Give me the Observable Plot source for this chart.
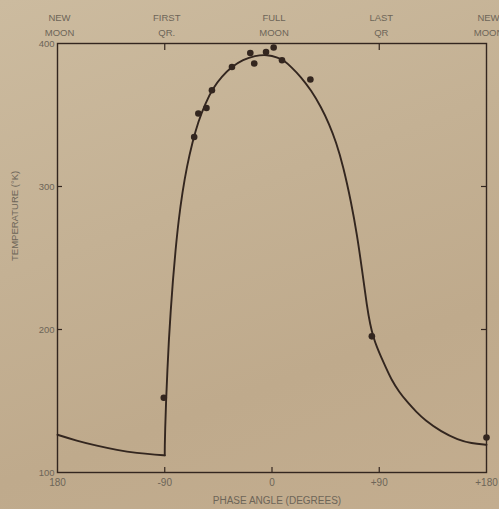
<!DOCTYPE html>
<html>
<head>
<meta charset="utf-8">
<script src="https://cdn.jsdelivr.net/npm/d3@7"></script>
<script src="https://cdn.jsdelivr.net/npm/@observablehq/plot@0.6"></script>
<style>
  html, body { margin: 0; padding: 0; }
  body {
    width: 499px; height: 509px; overflow: hidden;
    background: linear-gradient(160deg, #ccbb9f 0%, #c4b194 40%, #bfaa8c 70%, #c3ad8f 100%);
  }
  svg { display: block; }
</style>
</head>
<body>
<div id="chart"></div>
<script>
// Phase labels across the top
const phaseAngles = [-180, -90, 0, 90, 180];
const phaseLine1 = ["NEW", "FIRST", "FULL", "LAST", "NEW"];
const phaseLine2 = ["MOON", "QR.", "MOON", "QR", "MOON"];

// Axis tick labels
const xTickValues = [-180, -90, 0, 90, 180];
const xTickLabels = ["180", "-90", "0", "+90", "+180"];
const yTickValues = [100, 200, 300, 400];
const yTickLabels = ["100", "200", "300", "400"];

// Theoretical curve: night segment (new moon to first quarter)
const nightX = [-180, -164, -147, -130, -113.4, -96.6, -90];
const nightY = [126.4, 122.2, 118.7, 115.7, 113.6, 112.4, 112];

// Theoretical curve: sunlit segment (first quarter through new moon)
const dayX = [-90, -90, -89.7, -88.9, -87.8, -86.6, -85.0, -83.2, -81.0, -78.4, -75.2, -71.4, -66.8, -61.8, -55.9, -49.6, -42.0, -33.6, -24.4, -14.3, -4.2, 5.0, 10.9, 16.0, 24.4, 32.8, 41.2, 47.9, 53.8, 59.7, 66.4, 71.4, 75.6, 79.8, 82.4, 84.9, 88.2, 91.6, 95.8, 100.0, 106.7, 114.0, 121.0, 128.0, 142.0, 156.1, 167.2, 179.8, 180];
const dayY = [112, 118, 129.2, 150.2, 171.2, 192.2, 213.2, 234.2, 255.2, 276.3, 295.9, 314.1, 330.9, 345.6, 358.2, 368.7, 377.1, 383.8, 388.7, 391.5, 392.3, 390.2, 387.6, 383.6, 376.6, 367.3, 355.6, 343.8, 331.1, 314.4, 289.2, 266.1, 241.6, 215.3, 203.4, 195.0, 187.3, 180.7, 173.0, 165.3, 156.2, 148.8, 142.5, 136.9, 128.5, 122.9, 120.4, 119.4, 119.4];

// Observations
const obsX = [-90.8, -65.3, -61.8, -55, -50.4, -33.6, -18.2, -14.9, -5, 1.4, 8.4, 32.2, 83.8, 180];
const obsY = [152.3, 334.6, 351, 354.9, 367.3, 383.6, 393.4, 386, 394.1, 397.2, 388.3, 374.8, 195.2, 124.5];

// Inward tick marks
const bottomTicks = [-90, 0, 90];
const topTicks = [-90, 90];
const sideTicks = [200, 300];

const curve = [
  ...nightX.map((x, i) => ({x, y: nightY[i], seg: "night"})),
  ...dayX.map((x, i) => ({x, y: dayY[i], seg: "day"}))
];
const obs = obsX.map((x, i) => ({x, y: obsY[i]}));
const phases = phaseAngles.map((x, i) => ({x, a: phaseLine1[i], b: phaseLine2[i]}));
const xticks = xTickValues.map((x, i) => ({x, t: xTickLabels[i]}));
const yticks = yTickValues.map((y, i) => ({y, t: yTickLabels[i]}));

const ink = "#33261f";
const grey = "#6d6558";
const font = "'Liberation Sans', 'DejaVu Sans', sans-serif";
const xMin = -180, xMax = 180, yMin = 100, yMax = 400;
const tickLenX = 4.2, tickLenY = 3.5;

const chart = Plot.plot({
  width: 499,
  height: 509,
  marginLeft: 57,
  marginRight: 13,
  marginTop: 43,
  marginBottom: 37,
  style: {background: "transparent", fontFamily: font, overflow: "visible"},
  x: {domain: [xMin, xMax], axis: null},
  y: {domain: [yMin, yMax], axis: null},
  marks: [
    Plot.frame({stroke: ink, strokeWidth: 1.4}),
    Plot.ruleX(bottomTicks, {x: d => d, y1: yMin, y2: yMin + tickLenY, stroke: ink, strokeWidth: 1.2}),
    Plot.ruleX(topTicks, {x: d => d, y1: yMax, y2: yMax - tickLenY * 1.4, stroke: ink, strokeWidth: 1.2}),
    Plot.ruleY(sideTicks, {y: d => d, x1: xMin, x2: xMin + tickLenX, stroke: ink, strokeWidth: 1.2}),
    Plot.ruleY(sideTicks, {y: d => d, x1: xMax, x2: xMax - tickLenX, stroke: ink, strokeWidth: 1.2}),
    Plot.line(curve, {x: "x", y: "y", z: "seg", curve: "basis", stroke: ink, strokeWidth: 1.9}),
    Plot.dot(obs, {x: "x", y: "y", r: 3.3, fill: ink, stroke: "none"}),
    Plot.text(phases, {x: "x", text: "a", frameAnchor: "top", dy: -29, dx: 2, fill: grey, fontSize: 9.5, style: "letter-spacing:0.6px"}),
    Plot.text(phases, {x: "x", text: "b", frameAnchor: "top", dy: -14, dx: 2, fill: grey, fontSize: 9.5, style: "letter-spacing:0.6px"}),
    Plot.text(xticks, {x: "x", text: "t", frameAnchor: "bottom", dy: 13, fill: grey, fontSize: 10}),
    Plot.text(yticks, {y: "y", text: "t", frameAnchor: "left", textAnchor: "end", dx: -3, dy: 0, fill: grey, fontSize: 9.5}),
    Plot.text(["PHASE ANGLE (DEGREES)"], {text: d => d, frameAnchor: "bottom", dy: 31, dx: 5, fill: grey, fontSize: 10, style: "letter-spacing:0.6px"}),
    Plot.text(["TEMPERATURE (°K)"], {text: d => d, frameAnchor: "left", dx: -43, dy: 3, rotate: -90, fill: grey, fontSize: 9.5, style: "letter-spacing:0.6px"})
  ]
});
document.getElementById("chart").appendChild(chart);
</script>
</body>
</html>
